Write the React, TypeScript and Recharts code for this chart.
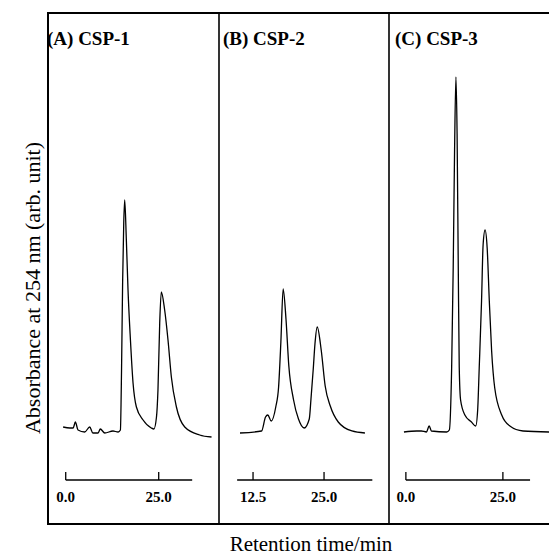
import { LineChart, Line, XAxis, YAxis, ReferenceLine } from 'recharts';

// Chromatogram traces (time in min, absorbance in arb. units above baseline)
const timeA = [-0.7, 1.1, 2.0, 2.6, 3.3, 5.1, 6.45, 7.3, 8.7, 9.3, 10.5, 12.7, 14.1, 14.7, 15.0, 15.3, 15.6, 15.86, 16.3, 16.75, 17.4, 18.1, 19.0, 20.8, 23.0, 23.7, 24.4, 24.8, 25.27, 25.7, 26.6, 27.5, 28.4, 29.76, 32.0, 36.0, 39.2];
const absA = [5, 4, 4, 10, 2, 0, 5, -1, -1, 3, -1, 1, 0, 2, 60, 150, 209, 232, 192, 142, 92, 49, 25, 12, 4, 3, 15, 42, 109, 140, 122, 92, 55, 25, 5, -3, -5];

const timeB = [10.2, 14.0, 14.7, 15.1, 15.7, 16.5, 17.0, 17.4, 17.8, 18.3, 18.8, 19.6, 20.5, 21.5, 22.4, 22.7, 23.1, 23.4, 23.8, 24.5, 25.2, 26.1, 27.5, 29.9, 32.2];
const absB = [-1, 1, 15, 17, 11, 25, 45, 90, 143, 113, 66, 33, 13, 4, 13, 33, 63, 88, 105, 82, 46, 26, 10, 1, -1];

const timeC = [-0.5, 2.8, 4.0, 5.3, 6.0, 6.6, 10.5, 11.2, 11.8, 12.2, 12.55, 12.9, 13.2, 13.5, 13.75, 14.1, 15.2, 16.9, 18.0, 18.5, 18.9, 19.5, 19.9, 20.4, 20.95, 21.5, 22.1, 22.9, 24.7, 26.8, 30.2, 37.0];
const absC = [0, 1, 1, 0, 6, 1, 0, 2, 65, 165, 282, 355, 298, 165, 65, 32, 17, 10, 6, 22, 64, 131, 187, 202, 184, 131, 81, 44, 17, 6, 1, 0];

// Time axis ticks and extent of each drawn axis bar
const ticksA = [0, 25];
const ticksB = [12.5, 25];
const ticksC = [0, 25];
const axisA = [0, 34];
const axisB = [9.7, 33.5];
const axisC = [0, 32];

const titles = ['(A) CSP-1', '(B) CSP-2', '(C) CSP-3'];

const SERIF = '"Liberation Serif", "Times New Roman", serif';
const PAD = 20;
const Y_DOMAIN: [number, number] = [-48, 419];

const toRows = (t: number[], v: number[]) => t.map((x, i) => ({ t: x, v: v[i] }));

const panels = [
  { data: toRows(timeA, absA), ticks: ticksA, axis: axisA, domain: [-1, 40], left: 62.3, width: 152.5 },
  { data: toRows(timeB, absB), ticks: ticksB, axis: axisB, domain: [9.5, 33.6], left: 236, width: 136.9 },
  { data: toRows(timeC, absC), ticks: ticksC, axis: axisC, domain: [-1, 37.5], left: 402.1, width: 149.4 },
];

function TimeTick({ x, y, payload }: any) {
  return (
    <g>
      <line x1={x} y1={y} x2={x} y2={y - 8} stroke="#000" strokeWidth={1.3} />
      <text x={x} y={y + 22} textAnchor="middle" fontFamily={SERIF} fontWeight="bold" fontSize={15} fill="#000">
        {Number(payload.value).toFixed(1)}
      </text>
    </g>
  );
}

function Panel({ p }: { p: (typeof panels)[number] }) {
  return (
    <LineChart
      width={p.width + PAD * 2}
      height={497}
      data={p.data}
      margin={{ top: 0, right: PAD, bottom: 0, left: PAD }}
      style={{ position: 'absolute', left: p.left - PAD, top: 13 }}
    >
      <XAxis
        dataKey="t"
        type="number"
        domain={p.domain}
        allowDataOverflow
        ticks={p.ticks}
        interval={0}
        height={30}
        axisLine={false}
        tickLine={false}
        tickSize={0}
        tickMargin={0}
        tick={<TimeTick />}
      />
      <YAxis hide type="number" domain={Y_DOMAIN} allowDataOverflow />
      <ReferenceLine
        segment={[{ x: p.axis[0], y: Y_DOMAIN[0] }, { x: p.axis[1], y: Y_DOMAIN[0] }]}
        stroke="#000"
        strokeWidth={1.3}
      />
      <Line
        type="monotone"
        dataKey="v"
        stroke="#000"
        strokeWidth={1.3}
        dot={false}
        isAnimationActive={false}
      />
    </LineChart>
  );
}

export default function App() {
  const titleX = [47, 223, 395];
  return (
    <div style={{ position: 'absolute', left: 0, top: 0, width: 549, height: 558, overflow: 'hidden', background: '#fff' }}>
      <svg width={549} height={558} style={{ position: 'absolute', left: 0, top: 0 }}>
        {/* frame and panel dividers */}
        <line x1={48} y1={13} x2={549} y2={13} stroke="#000" strokeWidth={2} />
        <line x1={48} y1={524} x2={549} y2={524} stroke="#000" strokeWidth={2} />
        <line x1={48} y1={12} x2={48} y2={525} stroke="#000" strokeWidth={2} />
        <line x1={219} y1={13} x2={219} y2={524} stroke="#000" strokeWidth={1.6} />
        <line x1={389} y1={13} x2={389} y2={524} stroke="#000" strokeWidth={1.6} />
        {titles.map((t, i) => (
          <text key={t} x={titleX[i]} y={45} fontFamily={SERIF} fontWeight="bold" fontSize={19} fill="#000">
            {t}
          </text>
        ))}
        <text
          transform="translate(40,288) rotate(-90)"
          textAnchor="middle"
          fontFamily={SERIF}
          fontSize={22}
          fill="#000"
        >
          Absorbance at 254 nm (arb. unit)
        </text>
        <text x={311} y={551} textAnchor="middle" fontFamily={SERIF} fontSize={21} fill="#000">
          Retention time/min
        </text>
      </svg>
      {panels.map((p, i) => (
        <Panel key={i} p={p} />
      ))}
    </div>
  );
}
